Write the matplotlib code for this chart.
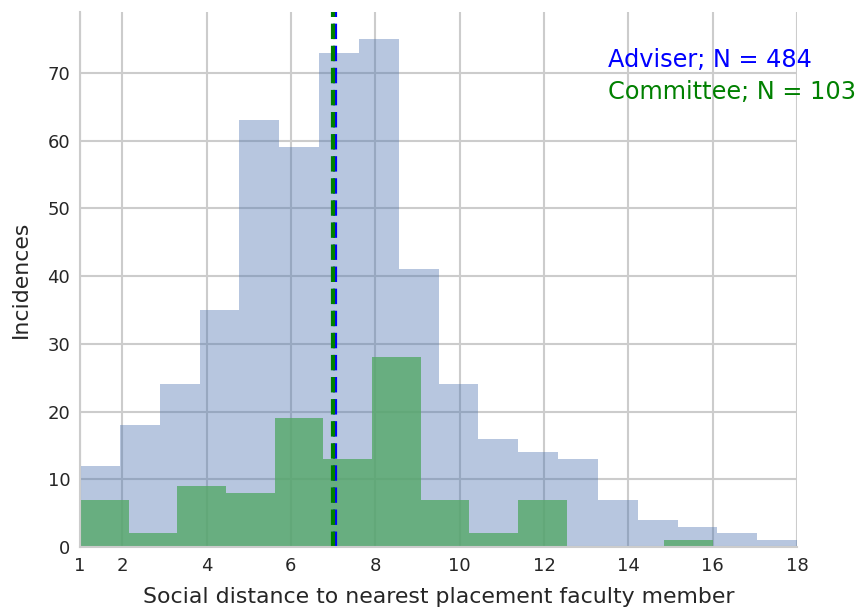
import numpy as np
import matplotlib
matplotlib.use("Agg")
import matplotlib.pyplot as plt
import seaborn as sns

# Histogram counts
adviser_counts = [12, 18, 24, 35, 63, 59, 73, 75, 41, 24, 16, 14, 13, 7, 4, 3, 2, 1]
adviser_range = (1, 18)
committee_counts = [7, 2, 9, 8, 19, 13, 28, 7, 2, 7, 0, 0, 1]
committee_range = (1, 16)
adviser_median = 7.04
committee_median = 7.0
x_ticks = [1, 2, 4, 6, 8, 10, 12, 14, 16, 18]
y_ticks = [0, 10, 20, 30, 40, 50, 60, 70]

sns.set_style("whitegrid")
plt.rcParams['font.family'] = ['DejaVu Sans']

fig = plt.figure(figsize=(8.59, 6.09), dpi=100)
ax = fig.add_axes([80 / 859, 62 / 609, 717 / 859, 535 / 609])

# Adviser histogram
a_edges = np.linspace(adviser_range[0], adviser_range[1], len(adviser_counts) + 1)
a_mid = (a_edges[:-1] + a_edges[1:]) / 2
ax.hist(a_mid, bins=a_edges, weights=adviser_counts, color='#4C72B0', alpha=0.4,
        edgecolor='none', linewidth=0)

# Committee histogram
c_edges = np.linspace(committee_range[0], committee_range[1], len(committee_counts) + 1)
c_mid = (c_edges[:-1] + c_edges[1:]) / 2
ax.hist(c_mid, bins=c_edges, weights=committee_counts, color='#55A868', alpha=0.8,
        edgecolor='none', linewidth=0)

# median lines
ax.axvline(adviser_median, color='blue', linestyle='--', linewidth=3)
ax.axvline(committee_median, color='green', linestyle='--', linewidth=3)

ax.text(13.52, 70.9, 'Adviser; N = 484', color='blue', fontsize=17.3, va='baseline')
ax.text(13.52, 66.2, 'Committee; N = 103', color='green', fontsize=17.3, va='baseline')

ax.set_xlim(1, 18)
ax.set_ylim(0, 79)
ax.set_xticks(x_ticks)
ax.set_yticks(y_ticks)
ax.tick_params(labelsize=13, colors='#262626')
ax.set_xlabel('Social distance to nearest placement faculty member', fontsize=15.8,
              color='#262626', labelpad=9)
ax.set_ylabel('Incidences', fontsize=15.8, color='#262626', labelpad=12)
ax.grid(True, color='#cccccc', linewidth=1.5)
sns.despine(ax=ax)
for s in ['left', 'bottom']:
    ax.spines[s].set_color('#cccccc')
    ax.spines[s].set_linewidth(1.5)

fig.savefig('out.png', dpi=100, facecolor='white')
